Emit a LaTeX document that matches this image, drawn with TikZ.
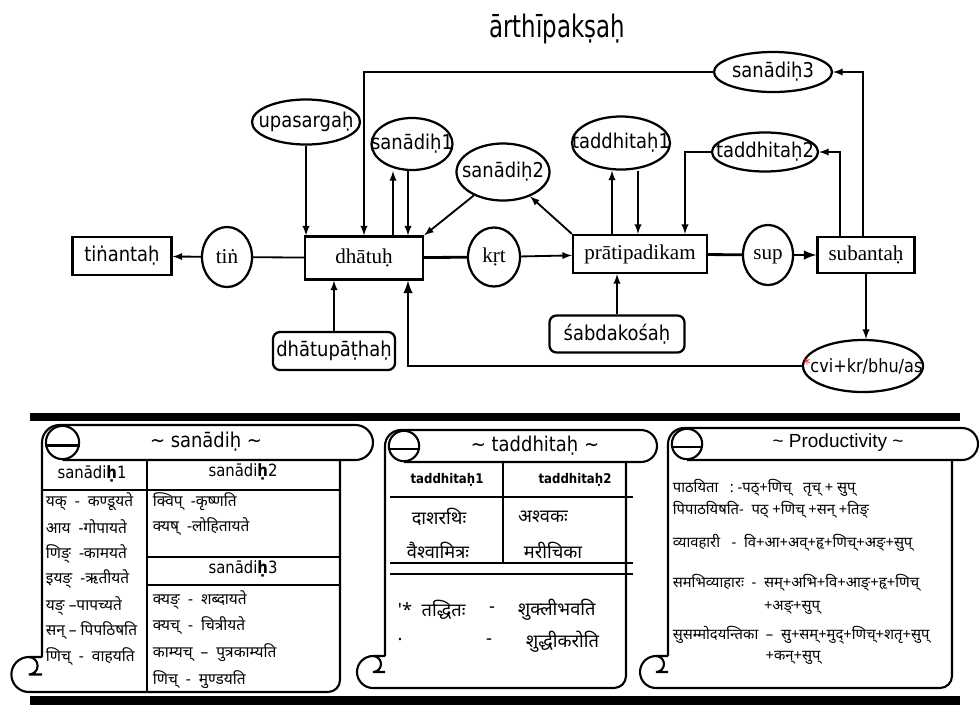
\documentclass[tikz,border=0pt]{standalone}
\usepackage{fontspec}
\setmainfont{Liberation Serif}
\newfontfamily\lsans[FakeStretch=0.88]{DejaVu Sans}
\newfontfamily\tsans[FakeStretch=0.74]{DejaVu Sans}
\newfontfamily\hsans{Liberation Sans}
\newfontfamily\dev[Script=Devanagari]{Noto Sans}
\usetikzlibrary{arrows,shapes,calc}

% scroll frame: left, top, header right end, body right, bottom, header radius
\newcommand{\scrollframe}[6]{%
  \draw[scroll] (#1,#5-2*#6) -- (#1,#2+#6) arc (180:270:#6) -- (#3-#6,#2) arc (-90:90:#6)
    -- (#1+#6+3,#2+2*#6);
  \draw[scroll] (#1+#6+3,#2+#6) circle (#6*0.95);
  \draw[scroll] (#1+4,#2+#6+3) -- (#1+2*#6+3,#2+#6+3);
  \draw[scroll] (#1,#5-2*#6) -- (#1-0.75*#6,#5-2*#6) arc (-90:-270:#6) -- (#4-12,#5) arc (90:0:12)
    -- (#4,#2+2*#6);
  \draw[scroll] (#1-0.75*#6,#5-2*#6) arc (-90:90:#6/2) -- (#1,#5-#6);
}

\begin{document}
\begin{tikzpicture}[x=0.025cm,y=-0.025cm,>=latex,line width=1.3pt,
    box/.style={draw,line width=1.6pt,inner sep=0pt},
    oval/.style={draw,ellipse,line width=1.6pt,inner sep=0pt},
    rbox/.style={draw,rounded corners=5pt,line width=1.6pt,inner sep=0pt},
    lab/.style={font=\lsans\fontsize{14.5}{16}\selectfont},
    ser/.style={font=\fontsize{15}{17}\selectfont},
    heavy/.style={line width=2pt},
    scroll/.style={line width=1.5pt},
    tabline/.style={line width=0.8pt},
    hd/.style={font=\lsans\fontsize{12}{14}\selectfont},
    thd/.style={font=\lsans\bfseries\fontsize{9.5}{11}\selectfont},
    dv/.style={font=\dev\fontsize{11}{13}\selectfont,inner sep=0pt},
    dvl/.style={dv,anchor=west},
    dvt/.style={font=\dev\fontsize{13}{15}\selectfont,inner sep=0pt},
    dvp/.style={font=\dev\fontsize{10.5}{12}\selectfont,inner sep=0pt}]
\useasboundingbox (0,0) rectangle (979,706);

\node[font=\tsans\fontsize{22}{26}\selectfont] (title) at (557,29) {ārthīpakṣaḥ};

\node[box,lab,minimum width=2.475cm,minimum height=0.95cm] (tinanta) at (122,256) {tiṅantaḥ};
\node[oval,ser,minimum width=1.25cm,minimum height=1.5cm] (tin) at (227,257) {tiṅ};
\node[box,ser,minimum width=2.95cm,minimum height=1.075cm] (dhatu) at (364,258) {dhātuḥ};
\node[oval,ser,minimum width=1.3cm,minimum height=1.475cm] (krt) at (494,257) {kṛt};
\node[box,ser,minimum width=3.35cm,minimum height=0.95cm] (prati) at (640,254) {prātipadikam};
\node[oval,ser,text depth=0pt,minimum width=1.25cm,minimum height=1.5cm] (sup) at (768,255) {sup};
\node[box,ser,minimum width=2.425cm,minimum height=0.9cm] (suban) at (866,255) {subantaḥ};

\node[oval,lab,minimum width=2.7cm,minimum height=1.125cm] (upa) at (306,122) {\makebox[0pt]{upasargaḥ}};
\node[oval,lab,minimum width=2.025cm,minimum height=1.3cm] (sana1) at (412,144) {\makebox[0pt]{sanādiḥ1}};
\node[oval,lab,minimum width=2.325cm,minimum height=1.425cm] (sana2) at (503,172) {\makebox[0pt]{sanādiḥ2}};
\node[oval,lab,minimum width=2.45cm,minimum height=1.325cm] (tadd1) at (621,143) {\makebox[0pt]{taddhitaḥ1}};
\node[oval,lab,minimum width=2.65cm,minimum height=0.975cm] (tadd2) at (765,152) {\makebox[0pt]{taddhitaḥ2}};
\node[oval,lab,minimum width=2.95cm,minimum height=1.0cm] (sana3) at (773,72) {\makebox[0pt]{sanādiḥ3}};
\node[oval,font=\lsans\fontsize{13}{15}\selectfont,minimum width=3.0cm,minimum height=1.3cm] (cvi) at (863,366)
  {\makebox[0pt]{\raisebox{2pt}{\textcolor{red!75!orange}{\fontsize{11}{11}\selectfont*}}cvi+kr/bhu/as}};
\node[rbox,lab,minimum width=3.05cm,minimum height=0.95cm] (dpatha) at (334,351) {dhātupāṭhaḥ};
\node[rbox,lab,minimum width=3.375cm,minimum height=0.925cm] (sabda) at (617,334) {śabdakośaḥ};

\coordinate (s1a) at ($(dhatu.north)+(29,0)$);
\coordinate (s1b) at ($(dhatu.north)+(44,0)$);
\coordinate (t1a) at ($(prati.north)+(-28,0)$);
\coordinate (t1b) at ($(prati.north)+(-2,0)$);
\coordinate (t2) at ($(prati.north)+(45,0)$);
\coordinate (t3) at ($(suban.north)+(-26,0)$);
\coordinate (s3) at ($(suban.north)+(-3,0)$);
\coordinate (cv) at ($(dhatu.south)+(44,0)$);

\draw[->] (tin) -- (tinanta);
\draw (dhatu) -- (tin);
\draw[heavy] (dhatu) -- (krt);
\draw[->] (krt) -- (prati);
\draw[heavy] (prati) -- (sup);
\draw[heavy,->] (sup) -- (suban);
\draw[->] (upa) -- (upa |- dhatu.north);
\draw[->] (s3) |- (sana3);
\draw[->] (sana3) -| (dhatu.north);
\draw[->] (s1a) -- (s1a |- sana1.south);
\draw[->] (s1b |- sana1.south) -- (s1b);
\draw[->] (sana2) -- (dhatu.north east);
\draw[->] (prati.north west) -- (sana2);
\draw[->] (t1a) -- (t1a |- tadd1.south);
\draw[->] (t1b |- tadd1.south) -- (t1b);
\draw[->] (tadd2) -| (t2);
\draw[->] (t3) |- (tadd2);
\draw[->] (suban.south) -- (suban.south |- cvi.north);
\draw[heavy,->] (cvi) -| (cv);
\draw[->] (dpatha) -- (dpatha |- dhatu.south);
\draw[->] (sabda) -- (sabda |- prati.south);

\fill (30,413) rectangle (960,421);
\fill (30,696) rectangle (960,705);

\scrollframe{42}{425}{373}{340}{692}{17.5}
\scrollframe{385}{430}{657}{626}{688}{16}
\scrollframe{668}{428}{978}{952}{688}{16}

% sanadih
\node[lab] (sahead) at (206,442) {\textasciitilde{} sanādiḥ \textasciitilde};
\draw[tabline] (147,460) -- (147,692);
\draw[tabline] (42,490) -- (340,490);
\draw[tabline] (147,557) -- (340,557);
\draw[tabline] (147,585) -- (340,585);
\node[hd] (sa1h) at (92,474) {sanādi\textbf{ḥ}1};
\node[hd] (sa2h) at (243,472) {sanādi\textbf{ḥ}2};
\node[hd] (sa3h) at (243,569) {sanādi\textbf{ḥ}3};
\node[dvl] (sa11) at (45,502) {यक्\ \ -\ \ कण्डूयते};
\node[dvl] (sa12) at (45,527) {आय\ \ -गोपायते};
\node[dvl] (sa13) at (45,554) {णिङ्\ \ -कामयते};
\node[dvl] (sa14) at (45,579) {इयङ्\ \ -ऋतीयते};
\node[dvl] (sa15) at (45,606) {यङ्\ –पापच्यते};
\node[dvl] (sa16) at (45,631) {सन्\ –\ पिपठिषति};
\node[dvl] (sa17) at (45,657) {णिच्\ \ -\ \ वाहयति};
\node[dvl] (sa21) at (152,502) {क्विप्\ \ -कृष्णति};
\node[dvl] (sa22) at (152,527) {क्यष्\ \ -लोहितायते};
\node[dvl] (sa31) at (152,600) {क्यङ्\ \ -\ \ शब्दायते};
\node[dvl] (sa32) at (152,626) {क्यच्\ \ -\ \ चित्रीयते};
\node[dvl] (sa33) at (152,653) {काम्यच्\ \ –\ \ पुत्रकाम्यति};
\node[dvl] (sa34) at (152,680) {णिच्\ \ -\ \ मुण्डयति};

% taddhitah
\node[lab] (tahead) at (535,446) {\textasciitilde{} taddhitaḥ \textasciitilde};
\draw[tabline] (503,462) -- (503,563);
\draw[tabline] (390,497) -- (633,497);
\draw[tabline] (390,563) -- (633,563);
\draw[tabline] (390,574) -- (633,574);
\node[thd] (ta1h) at (447,480) {taddhitaḥ1};
\node[thd] (ta2h) at (575,480) {taddhitaḥ2};
\node[dvt] (ta11) at (439,517) {दाशरथिः};
\node[dvt] (ta21) at (543,517) {अश्वकः};
\node[dvt] (ta12) at (438,550) {वैश्वामित्रः};
\node[dvt] (ta22) at (553,550) {मरीचिका};
\node[dvt,anchor=west] (tax1) at (397,610) {'*\ \ तद्धितः};
\node[dvt] (tax2) at (492,610) {-};
\node[dvt,anchor=west] (tax3) at (517,610) {शुक्लीभवति};
\node[dvt] (tay1) at (400,640) {.};
\node[dvt] (tay2) at (489,642) {-};
\node[dvt,anchor=west] (tay3) at (525,642) {शुद्धीकरोति};

% productivity
\node[font=\hsans\fontsize{13.5}{15}\selectfont] (prhead) at (838,443) {\textasciitilde{} Productivity \textasciitilde};
\node[dvp,anchor=west] (pr1) at (672,488) {पाठयिता\ \ \ :\ -पठ्+णिच्\ \ \ तृच्\ +\ सुप्};
\node[dvp,anchor=west] (pr2) at (672,510) {पिपाठयिषति-\ \ पठ्\ +णिच्\ +सन्\ +तिङ्};
\node[dvp,anchor=west] (pr3) at (672,543) {व्यावहारी\ \ \ -\ \ वि+आ+अव्+हृ+णिच्+अङ्+सुप्};
\node[dvp,anchor=west] (pr4) at (672,583) {समभिव्याहारः\ \ -\ \ सम्+अभि+वि+आङ्+हृ+णिच्};
\node[dvp] (pr5) at (792,608) {+अङ्+सुप्};
\node[dvp,anchor=west] (pr6) at (672,635) {सुसम्मोदयन्तिका\ \ –\ \ सु+सम्+मुद्+णिच्+शतृ+सुप्};
\node[dvp] (pr7) at (793,658) {+कन्+सुप्};
\end{tikzpicture}
\end{document}
